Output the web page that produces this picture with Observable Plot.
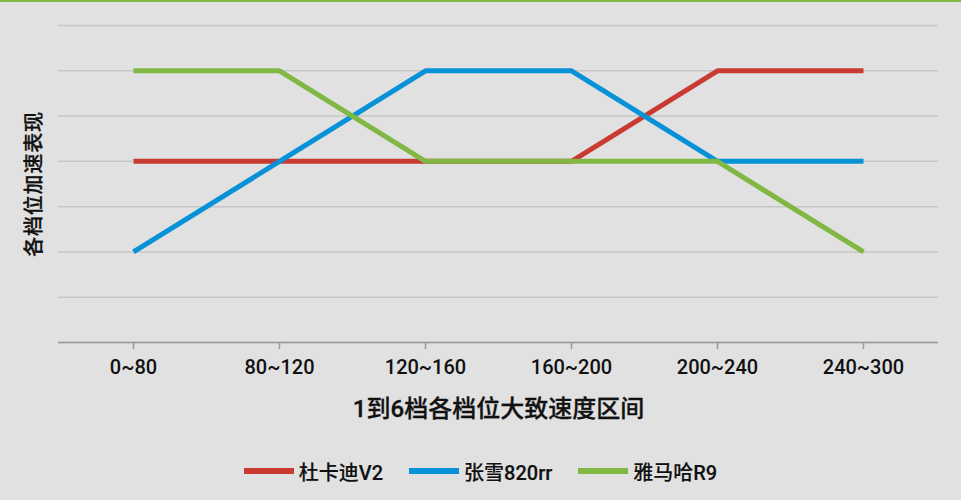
<!DOCTYPE html>
<html>
<head>
<meta charset="utf-8">
<script src="https://cdn.jsdelivr.net/npm/d3@7"></script>
<script src="https://cdn.jsdelivr.net/npm/@observablehq/plot@0.6"></script>
<style>
  html, body { margin: 0; padding: 0; background: #e1e1e1; }
  body { width: 961px; height: 500px; position: relative; overflow: hidden;
         font-family: Roboto, "Noto Sans CJK SC", sans-serif; color: #111; }
  #topbar { position: absolute; left: 0; top: 0; width: 961px; height: 2px; background: #7fb844; }
  #chart svg { display: block; }
  #legend { display: flex; justify-content: center; align-items: center; margin-top: 19px;
            height: 24px; font-size: 20px; font-weight: 500; -webkit-text-stroke: 0.15px #111; }
  .item { display: flex; align-items: center; margin: 0 13px; }
  .sw { width: 50px; height: 6px; margin-right: 5px; }
</style>
</head>
<body>
<div id="chart"></div>
<div id="legend"></div>
<div id="topbar"></div>
<script>
const categories = ["0~80", "80~120", "120~160", "160~200", "200~240", "240~300"];
const seriesNames = ["杜卡迪V2", "张雪820rr", "雅马哈R9"];
const ducati = [4, 4, 4, 4, 6, 6];
const zhangxue = [2, 4, 6, 6, 4, 4];
const yamaha = [6, 6, 4, 4, 4, 2];
const colors = ["#c83a32", "#0792d8", "#80b843"];
const xTitle = "1到6档各档位大致速度区间";
const yTitle = "各档位加速表现";

const seriesValues = [ducati, zhangxue, yamaha];
const data = seriesValues.flatMap((vals, si) =>
  vals.map((v, i) => ({series: seriesNames[si], cat: categories[i], value: v})));

const font = "Roboto, Noto Sans CJK SC, sans-serif";

const plot = Plot.plot({
  width: 961,
  height: 440,
  marginLeft: 58,
  marginRight: 23,
  marginTop: 25,
  marginBottom: 98,
  style: {background: "transparent", fontFamily: font, color: "#111"},
  x: {type: "point", domain: categories, padding: 0.5},
  y: {domain: [0, 7], axis: null},
  marks: [
    Plot.gridY({ticks: 7, stroke: "#c6c6c6", strokeOpacity: 1, strokeWidth: 1.5}),
    Plot.ruleY([0], {stroke: "#999", strokeWidth: 1.5}),
    Plot.axisX({tickSize: 7, tickPadding: 10, fontSize: 20, fontWeight: 500, stroke: "#999", strokeWidth: 1.5, label: null}),
    ...seriesNames.map((name, si) =>
      Plot.line(data.filter(d => d.series === name), {
        x: "cat", y: "value", stroke: colors[si], strokeWidth: 5,
        strokeLinejoin: "miter", strokeLinecap: "butt"
      })),
    Plot.text([xTitle], {frameAnchor: "bottom", lineAnchor: "middle", dy: 67, fontSize: 24, fontWeight: 500, fill: "#111", text: d => d, className: "xtitle"}),
    Plot.text([yTitle], {frameAnchor: "left", lineAnchor: "middle", textAnchor: "middle", dx: -24, rotate: -90, fontSize: 20, fontWeight: 500, fill: "#111", text: d => d, className: "ytitle"})
  ]
});
d3.select(plot).selectAll(".ytitle text").style("letter-spacing", "0.8px");
d3.select(plot).selectAll(".xtitle text, .ytitle text")
  .style("stroke", "#111").style("stroke-width", "0.3px").style("paint-order", "normal");
document.getElementById("chart").appendChild(plot);

const legend = document.getElementById("legend");
seriesNames.forEach((name, si) => {
  const item = document.createElement("div");
  item.className = "item";
  const sw = document.createElement("div");
  sw.className = "sw";
  sw.style.background = colors[si];
  const label = document.createElement("span");
  label.textContent = name;
  item.appendChild(sw);
  item.appendChild(label);
  legend.appendChild(item);
});
</script>
</body>
</html>
